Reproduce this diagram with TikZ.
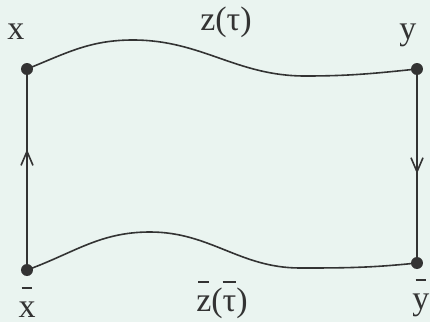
\documentclass[tikz,border=0pt]{standalone}
\usepackage{fontspec}
\setmainfont{Liberation Serif}
\usetikzlibrary{arrows.meta,calc}
\definecolor{ink}{HTML}{333333}
\definecolor{paper}{HTML}{EAF4F0}
% bar set high above a letter, drawn as a rule
\newcommand{\shortbar}[1]{\ooalign{\hfil\rule[0.82em]{0.32em}{0.06em}\hfil\cr #1\cr}}
\newcommand{\longbar}[1]{\ooalign{\rule[0.82em]{\widthof{#1}}{0.06em}\cr #1\cr}}
\usepackage{calc}
\begin{document}
\begin{tikzpicture}[x=0.5pt, y=-0.5pt, font=\fontsize{17}{20}\selectfont, line join=round, line cap=round, >={Straight Barb[length=7pt,width=6pt]}, color=ink, text=ink]
	\fill[paper] (0,0) rectangle (430,322);
	\useasboundingbox (0,0) rectangle (430,322);
	
	\coordinate (X) at (27,69);
	\coordinate (Y) at (417,69);
	\coordinate (Xb) at (27,270);
	\coordinate (Yb) at (417,263);
	
	\draw[line width=0.8pt] (X) to[out=22,in=180] (133,40) to[out=0,in=180] (305,76) to[out=0,in=186] (Y);
	\draw[line width=0.8pt] (Xb) to[out=20,in=180] (150,232) to[out=0,in=180] (300,268) to[out=0,in=186] (Yb);
	
	\draw[line width=0.8pt] (Xb) -- (X);
	\draw[line width=0.8pt] (Y) -- (Yb);
	\draw[line width=0.8pt, ->] (Xb) -- ($(Xb)!0.6!(X)$);
	\draw[line width=0.8pt, ->] (Y) -- ($(Y)!0.54!(Yb)$);
	
	\fill (X) circle (6);
	\fill (Y) circle (6);
	\fill (Xb) circle (6);
	\fill (Yb) circle (6);
	
	\node (lx) at (16,32) {x};
	\node (ly) at (408,35) {y};
	\node (lz) at (226,22) {z(τ)};
	\node[anchor=base] (lxb) at (27,317) {\shortbar{x}};
	\node[anchor=base] (lyb) at (421,309) {\shortbar{y}};
	\node[anchor=base] (lzb) at (222,311) {\shortbar{z}(\longbar{τ})};
\end{tikzpicture}
\end{document}
